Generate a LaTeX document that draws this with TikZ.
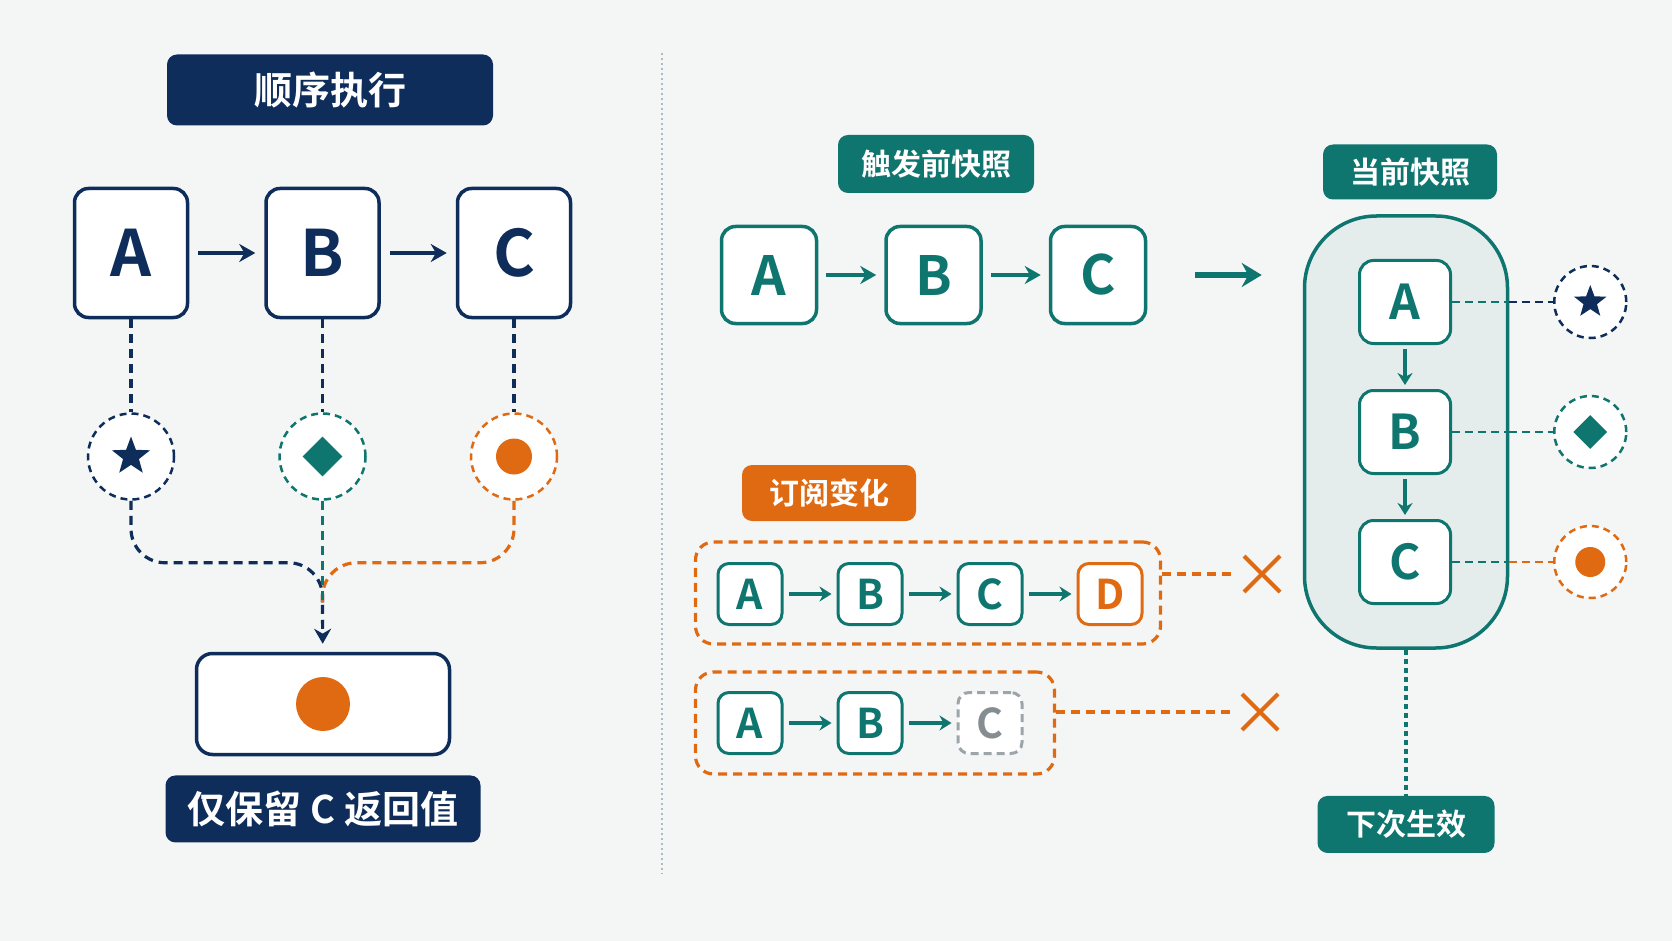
\documentclass[tikz,border=0pt]{standalone}
\usepackage{fontspec}
\newfontfamily\cjk{Noto Sans CJK SC}[BoldFont={* Bold}]
\usepackage{xcolor}
\usetikzlibrary{calc, positioning, arrows.meta, shapes.geometric, shapes.misc}
\definecolor{navy}{HTML}{0E2D5B}
\definecolor{tl}{HTML}{0F756F}
\definecolor{org}{HTML}{E06A12}
\definecolor{bg}{HTML}{F4F6F6}
\definecolor{capf}{HTML}{E4ECEC}
\definecolor{divc}{HTML}{A8BCC6}
\definecolor{ghost}{HTML}{9CA6AA}
\newcommand\fsz[1]{\fontsize{#1}{#1}\selectfont}

\begin{document}
\begin{tikzpicture}[x=1pt, y=-1pt, font=\cjk\bfseries,
  box/.style = {draw, fill=white, rounded corners=14pt, line width=3.5pt, inner sep=0pt},
  sbox/.style = {box, line width=3pt, rounded corners=11pt, minimum width=64pt, minimum height=61pt, font=\cjk\bfseries\fsz{41}},
  lbl/.style = {rounded corners=10pt, text=white, inner sep=0pt, font=\cjk\bfseries\fsz{30}},
  ring/.style = {circle, draw, fill=white, line width=2.5pt, dash pattern=on 7pt off 5pt},
  dsh/.style = {line width=3.2pt, dash pattern=on 9pt off 6pt},
  arr/.style = {line width=4pt, -{Stealth[length=16pt, width=18pt]}}]
\fill[bg] (0,0) rectangle (1672,941);
\draw[divc, line width=1.5pt, dash pattern=on 2pt off 3pt] (662,53) -- (662,874);

% sequential execution
\node[lbl, fill=navy, minimum width=326pt, minimum height=71pt, font=\cjk\bfseries\fsz{38}] (seq) at (330,90) {顺序执行};
\node[box, draw=navy, text=navy, minimum width=113pt, minimum height=129pt, font=\cjk\bfseries\fsz{64}] (lA) at (131,253) {A};
\node[box, draw=navy, text=navy, minimum width=113pt, minimum height=129pt, font=\cjk\bfseries\fsz{64}, right=75pt of lA] (lB) {B};
\node[box, draw=navy, text=navy, minimum width=113pt, minimum height=129pt, font=\cjk\bfseries\fsz{64}, right=75pt of lB] (lC) {C};
\foreach \i/\j in {lA/lB, lB/lC}{
\draw[arr, navy, shorten <=9pt, shorten >=9pt] (\i) -- (\j);
}
\node[ring, draw=navy, minimum size=86pt, below=93pt of lA] (sA) {};
\node[ring, draw=tl, minimum size=86pt, below=93pt of lB] (sB) {};
\node[ring, draw=org, minimum size=86pt, below=93pt of lC] (sC) {};
\foreach \i/\j in {lA/sA, lB/sB, lC/sC}{
\draw[dsh, navy] (\i) -- (\j);
}
\node[star, star points=5, star point ratio=2.4, fill=navy, minimum size=40pt, inner sep=0pt] (stA) at (sA) {};
\node[diamond, fill=tl, minimum size=40pt, inner sep=0pt] (dmB) at (sB) {};
\node[circle, fill=org, minimum size=36pt, inner sep=0pt] (dtC) at (sC) {};
\coordinate[below=104pt of sB.south] (mg);
\draw[dsh, navy, rounded corners=34pt] (sA) |- ($(mg)+(0,-42)$) -- (mg);
\draw[dsh, org, rounded corners=34pt] (sC) |- ($(mg)+(0,-42)$) -- (mg);
\draw[dsh, tl] (sB) -- (mg);
\node[box, draw=navy, rounded corners=16pt, minimum width=253pt, minimum height=101pt] (res) at (323,704) {};
\node[circle, fill=org, minimum size=54pt, inner sep=0pt] (rdot) at (res) {};
\draw[dsh, navy, -{Stealth[length=15pt, width=17pt]}, shorten >=8pt] (mg) -- (res);
\node[lbl, fill=navy, minimum width=315pt, minimum height=67pt, font=\cjk\bfseries\fsz{38}, below=19pt of res] (keep) {仅保留 C 返回值};

% snapshot before trigger
\node[lbl, fill=tl, minimum width=196pt, minimum height=58pt] (pre) at (936,164) {触发前快照};
\node[box, draw=tl, text=tl, minimum width=95pt, minimum height=97pt, font=\cjk\bfseries\fsz{54}] (tA) at (769,275) {A};
\node[box, draw=tl, text=tl, minimum width=95pt, minimum height=97pt, font=\cjk\bfseries\fsz{54}, right=66pt of tA] (tB) {B};
\node[box, draw=tl, text=tl, minimum width=95pt, minimum height=97pt, font=\cjk\bfseries\fsz{54}, right=66pt of tB] (tC) {C};
\foreach \i/\j in {tA/tB, tB/tC}{
\draw[arr, tl, shorten <=8pt, shorten >=8pt] (\i) -- (\j);
}

% current snapshot
\node[lbl, fill=tl, minimum width=174pt, minimum height=55pt] (now) at (1410,172) {当前快照};
\node[draw=tl, fill=capf, line width=3.5pt, rounded corners=72pt, minimum width=203pt, minimum height=432pt] (cur) at (1406,432) {};
\draw[tl, line width=6pt, -{Stealth[length=20pt, width=24pt]}, shorten <=48pt, shorten >=41pt] (tC) -- (tC -| cur.west);
\node[box, draw=tl, text=tl, line width=3pt, minimum width=91pt, minimum height=83pt, font=\cjk\bfseries\fsz{48}] (cA) at (1405,302) {A};
\node[box, draw=tl, text=tl, line width=3pt, minimum width=91pt, minimum height=83pt, font=\cjk\bfseries\fsz{48}, below=44pt of cA] (cB) {B};
\node[box, draw=tl, text=tl, line width=3pt, minimum width=91pt, minimum height=83pt, font=\cjk\bfseries\fsz{48}, below=44pt of cB] (cC) {C};
\foreach \i/\j in {cA/cB, cB/cC}{
\draw[tl, line width=3.5pt, -{Stealth[length=12pt, width=15pt]}, shorten <=4pt, shorten >=4pt] (\i) -- (\j);
}
\node[ring, draw=navy, minimum size=72pt, right=101pt of cA] (rA) {};
\node[ring, draw=tl, minimum size=72pt, right=101pt of cB] (rB) {};
\node[ring, draw=org, minimum size=72pt, right=101pt of cC] (rC) {};
\node[star, star points=5, star point ratio=2.4, fill=navy, minimum size=34pt, inner sep=0pt] (stR) at (rA) {};
\node[diamond, fill=tl, minimum size=34pt, inner sep=0pt] (dmR) at (rB) {};
\node[circle, fill=org, minimum size=30pt, inner sep=0pt] (dtR) at (rC) {};
\foreach \i/\j/\c in {cA/rA/navy, cB/rB/tl, cC/rC/org}{
\draw[tl, line width=2.8pt, dash pattern=on 8pt off 5pt] (\i) -- (\i -| cur.east);
\draw[\c, line width=2.8pt, dash pattern=on 8pt off 5pt] (\i -| cur.east) -- (\j);
}
\node[lbl, fill=tl, minimum width=177pt, minimum height=57pt, below=146pt of cur] (nxt) {下次生效};
\draw[tl, line width=3.5pt, dash pattern=on 5pt off 4pt] (cur) -- (nxt);

% subscription changes
\node[lbl, fill=org, minimum width=174pt, minimum height=56pt] (sub) at (829,493) {订阅变化};
\node[draw=org, dsh, rounded corners=18pt, minimum width=465pt, minimum height=102pt] (g1) at (928,593) {};
\node[draw=org, dsh, rounded corners=18pt, minimum width=359pt, minimum height=102pt] (g2) at (875,723) {};
\node[sbox, draw=tl, text=tl] (a1) at (750,594) {A};
\node[sbox, draw=tl, text=tl, right=53pt of a1] (b1) {B};
\node[sbox, draw=tl, text=tl, right=53pt of b1] (c1) {C};
\node[sbox, draw=org, text=org, right=53pt of c1] (d1) {D};
\node[sbox, draw=tl, text=tl] (a2) at (750,723) {A};
\node[sbox, draw=tl, text=tl, right=53pt of a2] (b2) {B};
\node[sbox, draw=ghost, text=ghost!85!black, dash pattern=on 8pt off 5pt, right=53pt of b2] (c2) {C};
\foreach \i/\j in {a1/b1, b1/c1, c1/d1, a2/b2, b2/c2}{
\draw[tl, line width=3.5pt, -{Stealth[length=12pt, width=15pt]}, shorten <=5pt, shorten >=5pt] (\i) -- (\j);
}
\node[cross out, draw=org, line width=4pt, minimum size=32pt, inner sep=0pt] (x1) at (1262,574) {};
\node[cross out, draw=org, line width=4pt, minimum size=32pt, inner sep=0pt] (x2) at (1260,712) {};
\draw[dsh, org, shorten >=9pt] (g1.east |- x1) -- (x1);
\draw[dsh, org, shorten >=9pt] (g2.east |- x2) -- (x2);
\end{tikzpicture}
\end{document}
